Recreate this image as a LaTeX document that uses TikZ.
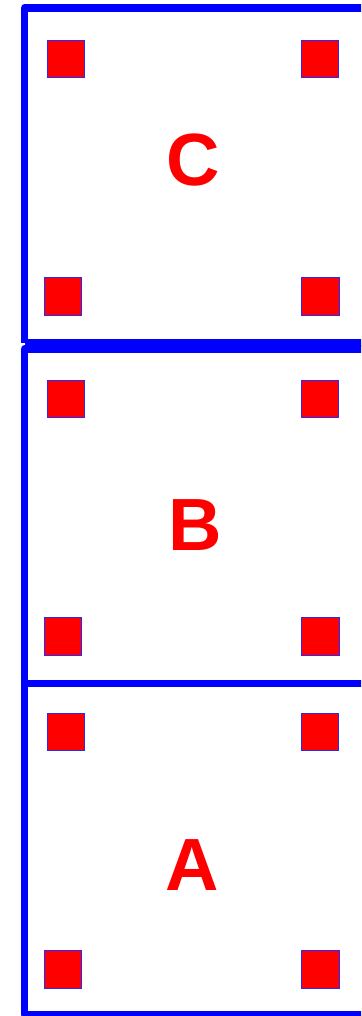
\documentclass[tikz,border=0pt]{standalone}
\usepackage{fontspec}
\setmainfont{Liberation Sans}
\begin{document}
\begin{tikzpicture}[x=1pt,y=-1pt,
  frame/.style={draw={rgb,255:red,0;green,0;blue,255},line width=7.5pt,line join=round},
  pad/.style={draw={rgb,255:red,40;green,40;blue,255},fill=red,line width=0.8pt,minimum size=37.5pt,inner sep=0pt,outer sep=0pt},
  lbl/.style={text=red,font=\fontsize{74}{88}\selectfont\bfseries,inner sep=0pt}]
\useasboundingbox (0,0) rectangle (361,1016);
\clip (0,0) rectangle (361,1016);
% boxes
\draw[frame] (24.5,343) -- (24.5,8) -- (380,8);
\draw[frame] (380,343) -- (24.5,343);
\draw[frame] (24.5,683.5) -- (24.5,349) -- (380,349);
\draw[frame] (380,683.5) -- (24.5,683.5);
\draw[frame] (24.5,683.5) -- (24.5,1014.5) -- (380,1014.5);
% pads C
\node[pad] (c1) at (66,59) {};
\node[pad] (c2) at (320,59) {};
\node[pad] (c3) at (63,296.5) {};
\node[pad] (c4) at (320.5,296.5) {};
% pads B
\node[pad] (b1) at (66,399) {};
\node[pad] (b2) at (320,399) {};
\node[pad] (b3) at (63,636.5) {};
\node[pad] (b4) at (320.5,636.5) {};
% pads A
\node[pad] (a1) at (66,732) {};
\node[pad] (a2) at (320,732) {};
\node[pad] (a3) at (63,969.5) {};
\node[pad] (a4) at (320.5,969.5) {};
% labels
\node[lbl] (lc) at (193.5,160.5) {C};
\node[lbl] (lb) at (195,525) {B};
\node[lbl] (la) at (192.5,865.5) {A};
\end{tikzpicture}
\end{document}
